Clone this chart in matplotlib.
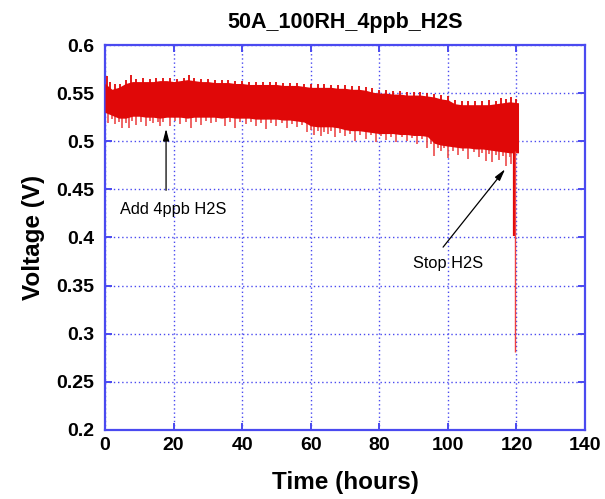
import matplotlib
matplotlib.use("Agg")
import matplotlib.pyplot as plt

plt.rcParams['font.family'] = ['Liberation Sans', 'DejaVu Sans']

# envelope of the voltage trace, every 2 hours
hours = [0, 2, 4, 6, 8, 10, 12, 14, 16, 18, 20, 22, 24, 26, 28, 30, 32, 34, 36, 38,
         40, 42, 44, 46, 48, 50, 52, 54, 56, 58, 60, 62, 64, 66, 68, 70, 72, 74, 76, 78,
         80, 82, 84, 86, 88, 90, 92, 94, 96, 98, 100, 102, 104, 106, 108, 110, 112, 114, 116, 118,
         120.6]
v_top = [0.560, 0.554, 0.556, 0.560, 0.562, 0.562, 0.562, 0.562, 0.563, 0.563,
         0.562, 0.563, 0.564, 0.563, 0.562, 0.562, 0.561, 0.561, 0.561, 0.560,
         0.560, 0.559, 0.559, 0.559, 0.559, 0.559, 0.558, 0.558, 0.558, 0.557,
         0.556, 0.556, 0.556, 0.556, 0.555, 0.555, 0.554, 0.554, 0.553, 0.551,
         0.550, 0.550, 0.549, 0.549, 0.548, 0.548, 0.548, 0.547, 0.546, 0.544,
         0.543, 0.539, 0.538, 0.538, 0.538, 0.538, 0.538, 0.539, 0.540, 0.541,
         0.540]
v_bottom = [0.530, 0.527, 0.524, 0.524, 0.526, 0.526, 0.525, 0.525, 0.524, 0.525,
            0.525, 0.525, 0.524, 0.525, 0.525, 0.525, 0.525, 0.524, 0.525, 0.524,
            0.524, 0.524, 0.523, 0.523, 0.523, 0.523, 0.522, 0.522, 0.521, 0.520,
            0.516, 0.515, 0.515, 0.515, 0.514, 0.512, 0.511, 0.511, 0.510, 0.509,
            0.508, 0.508, 0.508, 0.507, 0.507, 0.506, 0.506, 0.505, 0.498, 0.496,
            0.495, 0.494, 0.493, 0.493, 0.492, 0.492, 0.491, 0.490, 0.489, 0.488,
            0.488]

# single excursions below the band
dip_hours = [1, 2, 3, 4, 5, 6, 7, 8, 9, 10.5, 12, 13, 14, 15.5, 16, 17, 19, 20.5, 22, 23.5,
             25, 26.5, 28, 29.5, 31, 32.5, 35, 36.5, 38, 39.5, 41, 42.5, 44, 45.5, 47, 48.5,
             50, 51.5, 53, 54.5, 56, 57.5, 59, 60, 61, 62, 63, 64, 65, 66, 67, 68.5,
             70, 71.5, 73, 74.5, 76, 77.5, 79, 80.5, 82, 83.5, 85, 86.5, 88, 89.5, 91, 92.5,
             94, 95, 96, 97, 98, 99, 100, 101.5, 103, 104.5, 106, 107.5, 109, 110, 111, 112,
             113, 114, 115, 116, 117, 118, 118.5]
dip_volts = [0.519, 0.523, 0.518, 0.520, 0.514, 0.519, 0.514, 0.521, 0.517, 0.520,
             0.516, 0.521, 0.519, 0.520, 0.516, 0.520, 0.516, 0.521, 0.518, 0.520,
             0.514, 0.520, 0.517, 0.521, 0.519, 0.520, 0.516, 0.520, 0.514, 0.520,
             0.518, 0.520, 0.516, 0.519, 0.513, 0.519, 0.516, 0.519, 0.514, 0.518,
             0.515, 0.517, 0.510, 0.512, 0.507, 0.511, 0.505, 0.510, 0.508, 0.511,
             0.504, 0.509, 0.505, 0.508, 0.500, 0.507, 0.502, 0.506, 0.499, 0.505,
             0.501, 0.504, 0.499, 0.504, 0.500, 0.503, 0.497, 0.502, 0.493, 0.497,
             0.485, 0.493, 0.490, 0.493, 0.483, 0.490, 0.486, 0.490, 0.482, 0.489,
             0.484, 0.488, 0.480, 0.487, 0.478, 0.486, 0.481, 0.485, 0.474, 0.484,
             0.476]
# single excursions above the band
peak_hours = [0.5, 1.5, 3, 4.5, 6, 7.5, 9, 11, 13, 15, 17, 19, 21, 23, 24.5, 26, 28, 30, 32,
              34, 36, 38, 40, 42, 44, 46, 48, 50, 52, 54, 56, 58, 60, 62, 64, 66, 68, 70,
              72, 74, 76, 78, 80, 82, 84, 86, 88, 90, 92, 94, 96, 98, 100, 102, 104, 106,
              108, 110, 112, 114, 115.5, 117, 118.5, 120]
peak_volts = [0.568, 0.562, 0.559, 0.560, 0.564, 0.569, 0.565, 0.566, 0.565, 0.566,
              0.566, 0.566, 0.565, 0.566, 0.569, 0.566, 0.565, 0.565, 0.564, 0.564,
              0.564, 0.563, 0.563, 0.562, 0.562, 0.562, 0.562, 0.562, 0.561, 0.561,
              0.561, 0.560, 0.559, 0.559, 0.559, 0.558, 0.558, 0.558, 0.557, 0.557,
              0.556, 0.555, 0.553, 0.553, 0.552, 0.552, 0.551, 0.551, 0.551, 0.550,
              0.549, 0.548, 0.547, 0.543, 0.542, 0.542, 0.542, 0.542, 0.543, 0.542,
              0.545, 0.544, 0.546, 0.544]

# drop at the end of the run
drop_hours = [119.3, 119.5]
drop_volts = [0.402, 0.281]

red = '#e00808'
blue = '#4a4af0'

fig = plt.figure(figsize=(6.05, 4.99), dpi=100)
ax = fig.add_axes([0.1736, 0.1383, 0.7934, 0.7715])

ax.fill_between(hours, v_bottom, v_top, color=red, lw=0, zorder=3)
ax.vlines(dip_hours, dip_volts, 0.535, color='#ec4a4a', lw=1.2, zorder=2.5)
ax.vlines(peak_hours, 0.53, peak_volts, color=red, lw=1.3, zorder=3)
ax.vlines(drop_hours[0], drop_volts[0], 0.49, color=red, lw=1.6, zorder=3)
ax.vlines(drop_hours[1], drop_volts[1], 0.49, color='#f04040', lw=1.0, zorder=3)

# annotations
arrow = dict(arrowstyle='-|>,head_width=0.18,head_length=0.7', color='black', lw=0.9,
             shrinkA=0, shrinkB=0)
ax.annotate('', xy=(17.8, 0.513), xytext=(17.8, 0.449), arrowprops=arrow, zorder=5)
ax.text(4.4, 0.4295, 'Add 4ppb H2S', fontsize=11.8, va='center', ha='left', zorder=5)
ax.annotate('', xy=(116.7, 0.471), xytext=(98.6, 0.390), arrowprops=arrow, zorder=5)
ax.text(89.8, 0.373, 'Stop H2S', fontsize=11.8, va='center', ha='left', zorder=5)

ax.set_xlim(0, 140)
ax.set_ylim(0.2, 0.6)
ax.set_xticks(range(0, 141, 20))
ax.set_yticks([0.2, 0.25, 0.3, 0.35, 0.4, 0.45, 0.5, 0.55, 0.6])
ax.set_yticklabels(['0.2', '0.25', '0.3', '0.35', '0.4', '0.45', '0.5', '0.55', '0.6'])

ax.grid(True, color=blue, linestyle=(0, (1, 2)), lw=1, zorder=1)
ax.set_axisbelow(True)
for s in ax.spines.values():
    s.set_color(blue)
    s.set_linewidth(1.6)
ax.tick_params(direction='in', top=True, right=True, color=blue, length=5, width=1.4,
               labelsize=14)
ax.tick_params(axis='y', pad=8)
ax.tick_params(axis='x', pad=5)
for lab in ax.get_xticklabels() + ax.get_yticklabels():
    lab.set_fontweight('bold')

ax.set_title('50A_100RH_4ppb_H2S', fontsize=15.5, fontweight='bold', pad=12)
ax.set_xlabel('Time (hours)', fontsize=17.5, fontweight='bold', labelpad=12)
ax.set_ylabel('Voltage (V)', fontsize=17.5, fontweight='bold', labelpad=8)

fig.savefig('out.png', dpi=100)
